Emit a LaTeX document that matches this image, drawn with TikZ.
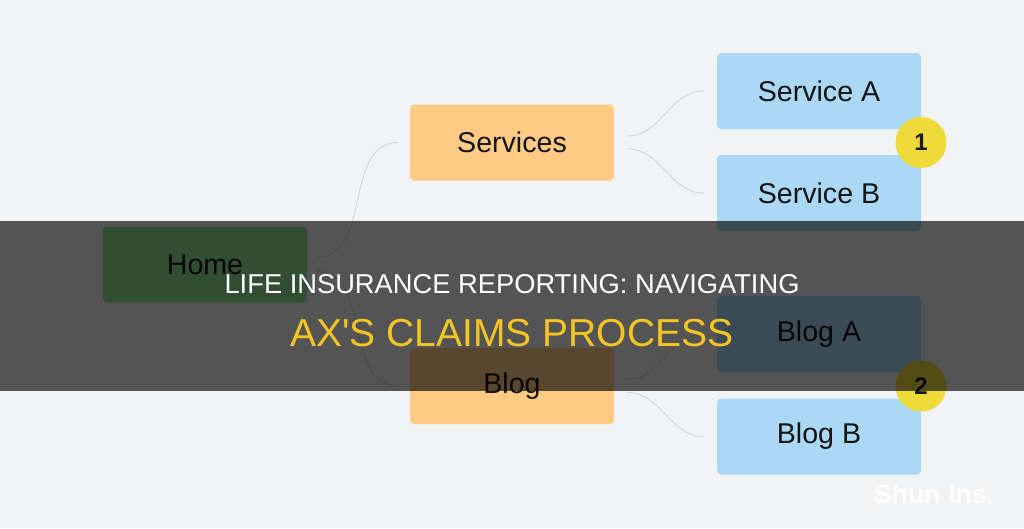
\documentclass[tikz,border=0pt]{standalone}
\usepackage{fontspec}
\setmainfont{Liberation Sans}
\newfontfamily\titlefont[Ligatures=TeXOff]{Liberation Sans}
\usetikzlibrary{calc}
\definecolor{bg}{HTML}{F2F3F5}
\definecolor{homegreen}{HTML}{90E090}
\definecolor{orangebox}{HTML}{FFCB84}
\definecolor{bluebox}{HTML}{AAD8F5}
\definecolor{badge}{HTML}{EEDB3A}
\definecolor{edgegray}{HTML}{D2D3D6}
\definecolor{titleyellow}{HTML}{F5C623}
\tikzset{
  boxnode/.style={rounded corners=4pt, minimum width=204pt, minimum height=76pt,
    inner sep=0pt, text=black!92, font=\fontsize{28.6}{32}\selectfont},
  homebox/.style={boxnode, fill=homegreen},
  midbox/.style={boxnode, fill=orangebox},
  leafbox/.style={boxnode, fill=bluebox},
  badgenode/.style={circle, fill=badge, minimum size=51pt, inner sep=0pt,
    font=\bfseries\fontsize{24}{28}\selectfont, text=black!90},
  link/.style={draw=edgegray, line width=0.9pt},
}
\begin{document}
\begin{tikzpicture}[x=1pt,y=-1pt]
\fill[bg] (0,0) rectangle (1024,528);
\useasboundingbox (0,0) rectangle (1024,528);
% nodes
\node[homebox] (home) at (205,264.5) {Home};
\node[midbox] (services) at (512,142.5) {Services};
\node[midbox] (blog) at (512,386) {Blog};
\node[leafbox] (sa) at (819,91) {Service A};
\node[leafbox] (sb) at (819,193) {Service B};
\node[leafbox] (ba) at (819,334) {Blog A};
\node[leafbox] (bb) at (819,436.5) {Blog B};
\node[badgenode] (b1) at (921,142.5) {1};
\node[badgenode] (b2) at (921,386) {2};
% connectors
\draw[link] ([xshift=10pt,yshift=7pt]home.east) to[out=0,in=180] ([xshift=-12pt]services.west);
\draw[link] ([xshift=10pt,yshift=-7pt]home.east) to[out=0,in=180] ([xshift=-12pt]blog.west);
\draw[link] ([xshift=13pt,yshift=6.5pt]services.east) to[out=0,in=180] ([xshift=-13pt]sa.west);
\draw[link] ([xshift=13pt,yshift=-6.5pt]services.east) to[out=0,in=180] ([xshift=-13pt]sb.west);
\draw[link] ([xshift=13pt,yshift=6.5pt]blog.east) to[out=0,in=180] ([xshift=-13pt]ba.west);
\draw[link] ([xshift=13pt,yshift=-6.5pt]blog.east) to[out=0,in=180] ([xshift=-13pt]bb.west);
% dark band
\fill[black, opacity=0.65] (0,221) rectangle (1024,391);
% title
\node[anchor=base, text=white, inner sep=0pt, font=\titlefont\fontsize{27.3}{30}\selectfont] (t1) at (512,293) {LIFE INSURANCE REPORTING: NAVIGATING};
\node[anchor=base, text=titleyellow, inner sep=0pt, font=\titlefont\fontsize{39}{42}\selectfont] (t2) at (512,346) {AX'S CLAIMS PROCESS};
% watermark
\node[anchor=base, text=white, opacity=0.9, inner sep=0pt, font=\bfseries\fontsize{26.7}{30}\selectfont] (wm) at (934,503) {Shun Ins.};
\end{tikzpicture}
\end{document}
